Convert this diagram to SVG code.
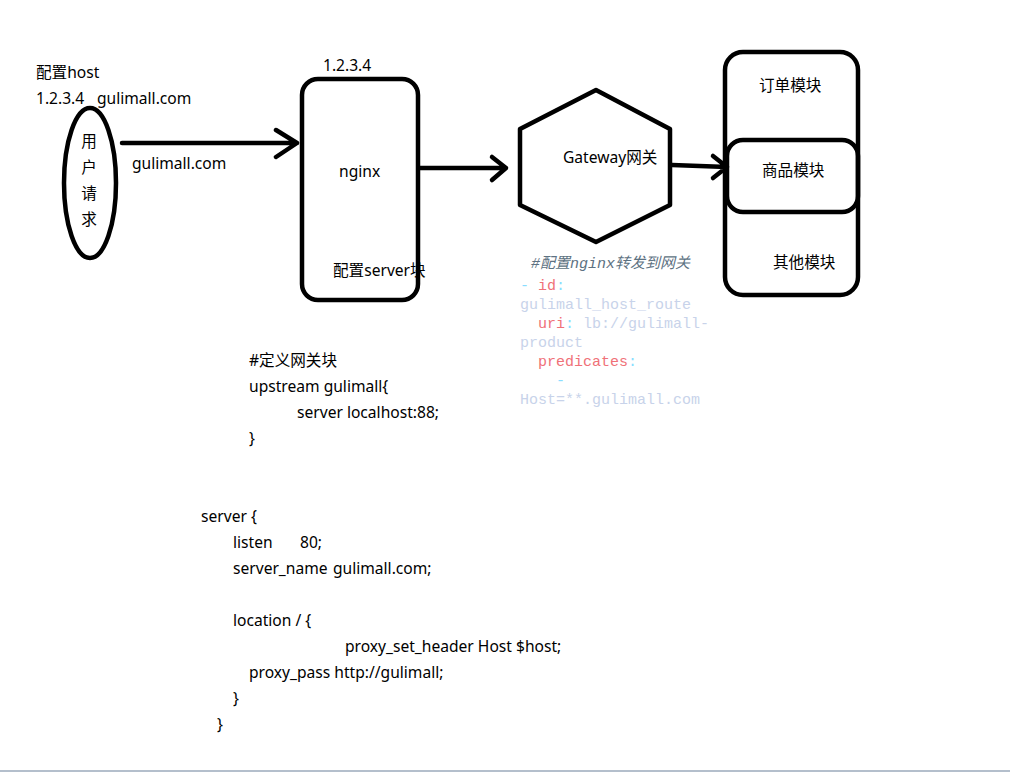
<svg xmlns="http://www.w3.org/2000/svg" width="1010" height="772" viewBox="0 0 1010 772">
<style>
.s{fill:none;stroke:#000;stroke-width:4.5;stroke-linecap:round;stroke-linejoin:round}
.t{font-family:"Noto Sans","Noto Sans CJK SC",sans-serif;font-size:15.6px;fill:#000}
.m{font-family:"Liberation Mono","Noto Sans CJK SC",monospace;font-size:15px}
.k{fill:#f07178}.p{fill:#89ddff}.v{fill:#c8d3ea}
</style>
<rect width="1010" height="772" fill="#fff"/>
<g id="connectors">
<path class="s" d="M122 143H297M276 130L297 143L276 157"/>
<path class="s" d="M420 168H506M492 157L506 168L492 180"/>
<path class="s" d="M672 165L727 167M713 156L727 167L713 178"/>
</g>
<g id="user">
<ellipse class="s" cx="90" cy="183" rx="26" ry="75"/>
<text class="t" x="89" y="147" text-anchor="middle">用</text>
<text class="t" x="89" y="173" text-anchor="middle">户</text>
<text class="t" x="89" y="199" text-anchor="middle">请</text>
<text class="t" x="89" y="225" text-anchor="middle">求</text>
</g>
<g id="host-label">
<text class="t" x="36" y="78">配置host</text>
<text class="t" x="36" y="104">1.2.3.4<tspan x="97">gulimall.com</tspan></text>
<text class="t" x="132" y="169">gulimall.com</text>
</g>
<g id="nginx">
<rect class="s" x="302" y="79" width="116" height="221" rx="16"/>
<text class="t" x="323" y="71">1.2.3.4</text>
<text class="t" x="339" y="177">nginx</text>
<text class="t" x="333" y="276">配置server块</text>
</g>
<g id="gateway">
<polygon class="s" points="596,90 670,129 670,205 596,242 520,205 520,129"/>
<text class="t" x="563" y="163">Gateway网关</text>
</g>
<g id="modules">
<rect class="s" x="725" y="52" width="133" height="243" rx="18"/>
<rect class="s" x="727" y="140" width="131" height="72" rx="16"/>
<text class="t" x="759" y="91">订单模块</text>
<text class="t" x="762" y="176">商品模块</text>
<text class="t" x="773" y="268">其他模块</text>
</g>
<g id="yaml">
<text class="m" x="531" y="268" font-style="italic" fill="#5d7282">#配置nginx转发到网关</text>
<text class="m" x="520" y="290"><tspan class="p">- </tspan><tspan class="k">id</tspan><tspan class="p">:</tspan></text>
<text class="m v" x="520" y="309">gulimall_host_route</text>
<text class="m" x="520" y="328"><tspan class="k" x="538">uri</tspan><tspan class="p">: </tspan><tspan class="v">lb://gulimall-</tspan></text>
<text class="m v" x="520" y="347">product</text>
<text class="m k" x="538" y="366">predicates<tspan class="p">:</tspan></text>
<text class="m p" x="556" y="385">-</text>
<text class="m v" x="520" y="404">Host=**.gulimall.com</text>
</g>
<g id="nginx-conf">
<text class="t" x="249" y="366">#定义网关块</text>
<text class="t" x="249" y="392">upstream gulimall{</text>
<text class="t" x="297" y="418">server localhost:88;</text>
<text class="t" x="249" y="444">}</text>
<text class="t" x="201" y="522">server {</text>
<text class="t" x="233" y="548">listen<tspan x="300">80;</tspan></text>
<text class="t" x="233" y="574">server_name<tspan x="333">gulimall.com;</tspan></text>
<text class="t" x="233" y="626">location / {</text>
<text class="t" x="345" y="652">proxy_set_header Host $host;</text>
<text class="t" x="249" y="678">proxy_pass http://gulimall;</text>
<text class="t" x="233" y="704">}</text>
<text class="t" x="217" y="730">}</text>
</g>
<rect x="0" y="770" width="1010" height="2" fill="#b4bfcc"/>
</svg>
